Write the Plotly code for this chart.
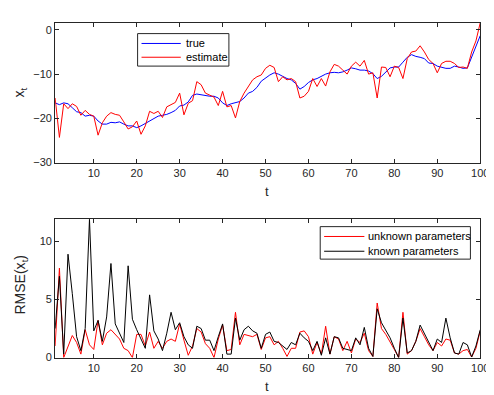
import numpy as np
import plotly.graph_objects as go

t = np.arange(1, 101)

x_true = [-16.5, -16.9, -16.5, -16.7, -17.6, -18.5, -18.7, -19.5, -19.3, -19.5,
          -20.6, -21.3, -21.3, -20.9, -21.0, -20.8, -21.3, -21.7, -21.7, -22.1,
          -21.7, -21.1, -20.6, -20.0, -19.5, -19.3, -19.1, -18.7, -18.2, -17.2,
          -17.0, -16.3, -14.8, -14.5, -14.7, -14.8, -15.0, -15.0, -15.4, -16.5,
          -17.1, -16.7, -16.4, -16.2, -15.4, -14.3, -13.9, -13.0, -11.6, -10.8,
          -10.2, -9.7, -10.0, -10.5, -11.0, -11.3, -12.1, -13.4, -12.8, -11.9,
          -11.3, -11.0, -10.5, -10.0, -9.7, -9.6, -9.7, -9.5, -9.1, -8.6,
          -8.8, -9.1, -9.1, -9.3, -9.9, -11.0, -10.5, -9.5, -8.6, -8.4,
          -8.4, -7.3, -6.2, -5.6, -6.0, -6.2, -6.5, -7.5, -7.6, -8.2,
          -8.5, -8.7, -8.7, -8.2, -8.4, -8.7, -8.6, -6.2, -3.9, -1.3]

x_est = [-15.4, -24.3, -16.7, -17.8, -16.7, -17.3, -19.3, -18.2, -19.1, -19.5,
         -23.8, -21.0, -19.5, -18.7, -19.1, -19.3, -20.8, -22.4, -21.9, -20.6,
         -23.6, -21.7, -18.4, -18.9, -18.4, -19.8, -17.4, -16.9, -16.4, -14.3,
         -19.2, -16.6, -16.0, -11.7, -12.4, -14.3, -14.8, -15.2, -17.1, -13.9,
         -17.4, -17.1, -19.9, -16.2, -14.3, -12.8, -11.3, -10.6, -10.2, -8.7,
         -8.0, -8.5, -11.7, -10.6, -11.3, -11.0, -11.7, -15.4, -15.0, -13.9,
         -11.0, -12.8, -11.0, -12.7, -9.5, -7.8, -8.2, -9.1, -10.0, -8.2,
         -7.3, -8.2, -6.9, -10.0, -9.7, -15.4, -8.4, -8.5, -10.6, -8.2,
         -8.5, -11.0, -6.5, -5.0, -4.8, -3.6, -5.0, -6.7, -7.6, -9.7,
         -7.6, -7.1, -7.1, -7.6, -8.5, -8.4, -8.7, -5.0, -2.5, 1.6]

rmse_unknown = [1.0, 7.7, 0.0, 1.0, 1.9, 1.3, 0.3, 2.4, 1.1, 0.7,
                3.2, 1.1, 2.1, 2.4, 2.0, 1.6, 0.8, 0.6, 0.0, 2.0,
                2.0, 1.0, 2.2, 0.8, 1.4, 0.8, 1.4, 1.6, 1.4, 2.9,
                1.5, 0.2, 1.0, 2.5, 2.2, 1.2, 0.8, 0.0, 1.6, 2.8,
                0.6, 0.7, 3.9, 1.1, 2.0, 1.9, 1.8, 2.0, 0.7, 1.7,
                1.8, 1.1, 1.4, 0.8, 0.1, 0.8, 0.8, 2.2, 2.3, 1.8,
                0.3, 1.3, 0.3, 2.7, 0.3, 1.8, 1.6, 0.6, 1.4, 0.4,
                1.6, 1.3, 2.1, 0.6, 0.1, 4.7, 2.5, 2.0, 1.4, 0.7,
                0.0, 3.9, 0.3, 0.6, 1.4, 2.5, 1.8, 1.1, 0.6, 1.3,
                1.0, 1.6, 1.5, 0.4, 0.3, 0.6, 0.7, 0.05, 0.8, 2.3]

rmse_known = [2.5, 7.0, 0.3, 8.9, 5.5, 1.8, 0.6, 2.5, 11.9, 2.3,
              3.2, 1.4, 3.5, 8.1, 2.9, 2.1, 1.3, 7.9, 3.3, 2.4,
              1.6, 0.8, 5.4, 2.3, 1.6, 0.6, 2.1, 3.9, 2.4, 3.0,
              1.8, 1.1, 0.8, 2.7, 2.5, 1.5, 1.5, 0.6, 1.8, 2.9,
              0.3, 0.3, 3.4, 1.5, 2.4, 2.7, 2.3, 2.1, 0.8, 2.0,
              2.2, 1.4, 1.3, 1.0, 0.7, 1.3, 1.1, 2.1, 1.7, 1.4,
              0.6, 1.4, 0.2, 1.7, 0.3, 1.8, 1.7, 0.8, 0.7, 0.6,
              1.7, 1.1, 2.6, 0.8, 0.1, 4.2, 3.0, 2.4, 1.7, 0.8,
              0.0, 3.4, 0.4, 0.6, 1.4, 2.8, 2.1, 1.4, 0.6, 1.6,
              1.3, 3.4, 1.7, 0.4, 0.3, 1.3, 1.1, 0.05, 1.0, 2.4]

xticks = [10, 20, 30, 40, 50, 60, 70, 80, 90, 100]

W, H = 494, 395
ink = "#262626"
font = "Liberation Sans, Arial, sans-serif"

def px_x(p):
  return p / W

def px_y(p):
  return 1 - p / H

fig = go.Figure()

fig.add_trace(go.Scatter(x=t, y=x_true, name="true", mode="lines",
                         line=dict(color="blue", width=1), xaxis="x", yaxis="y"))
fig.add_trace(go.Scatter(x=t, y=x_est, name="estimate", mode="lines",
                         line=dict(color="red", width=1), xaxis="x", yaxis="y"))
fig.add_trace(go.Scatter(x=t, y=rmse_unknown, name="unknown parameters", mode="lines",
                         line=dict(color="red", width=1), xaxis="x2", yaxis="y2"))
fig.add_trace(go.Scatter(x=t, y=rmse_known, name="known parameters", mode="lines",
                         line=dict(color="black", width=1), xaxis="x2", yaxis="y2"))

axis_style = dict(showline=True, linecolor=ink, linewidth=1, mirror="ticks",
                  ticks="inside", ticklen=4, tickcolor=ink, showgrid=False, zeroline=False,
                  tickfont=dict(size=11, color=ink, family=font))

fig.update_layout(
  width=W, height=H,
  paper_bgcolor="white", plot_bgcolor="white",
  margin=dict(l=0, r=0, t=0, b=0),
  font=dict(family=font, size=11, color=ink),
  showlegend=False,
  xaxis=dict(domain=[px_x(48), px_x(481)], range=[1, 100], tickvals=xticks, anchor="y", **axis_style),
  yaxis=dict(domain=[px_y(157), px_y(15)], range=[-30, 1.6], tickvals=[-30, -20, -10, 0], anchor="x", **axis_style),
  xaxis2=dict(domain=[px_x(48), px_x(481)], range=[1, 100], tickvals=xticks, anchor="y2", **axis_style),
  yaxis2=dict(domain=[px_y(355), px_y(214)], range=[0, 11.95], tickvals=[0, 5, 10], anchor="x2", **axis_style),
)

# legends drawn as boxes (MATLAB style, compact rows)
legends = [
  dict(box=(132, 26, 225, 59), line=(136, 176), text_x=179,
       items=[("true", "blue", 36), ("estimate", "red", 50)]),
  dict(box=(318, 222, 471, 255), line=(322, 363), text_x=365,
       items=[("unknown parameters", "red", 232), ("known parameters", "black", 247)]),
]
for lg in legends:
  x0, y0, x1, y1 = lg["box"]
  fig.add_shape(type="rect", xref="paper", yref="paper",
                x0=px_x(x0), x1=px_x(x1), y0=px_y(y1), y1=px_y(y0),
                line=dict(color=ink, width=1), fillcolor="white", layer="above")
  for label, color, yy in lg["items"]:
    fig.add_shape(type="line", xref="paper", yref="paper",
                  x0=px_x(lg["line"][0]), x1=px_x(lg["line"][1]), y0=px_y(yy), y1=px_y(yy),
                  line=dict(color=color, width=1), layer="above")
    fig.add_annotation(xref="paper", yref="paper", x=px_x(lg["text_x"]), y=px_y(yy),
                       text=label, showarrow=False, xanchor="left", yanchor="middle",
                       font=dict(size=11, color="black", family=font))

labels = [
  dict(text="t", x=px_x(264), y=px_y(186), size=13),
  dict(text="t", x=px_x(264), y=px_y(384), size=13),
  dict(text="x<sub>t</sub>", x=px_x(12), y=px_y(86), textangle=-90, size=14),
  dict(text="RMSE(x<sub>t</sub>)", x=px_x(13), y=px_y(281), textangle=-90, size=14),
]
for a in labels:
  size = a.pop("size")
  fig.add_annotation(xref="paper", yref="paper", showarrow=False,
                     xanchor="center", yanchor="middle",
                     font=dict(size=size, color=ink, family=font), **a)

fig.write_html("out.html")
